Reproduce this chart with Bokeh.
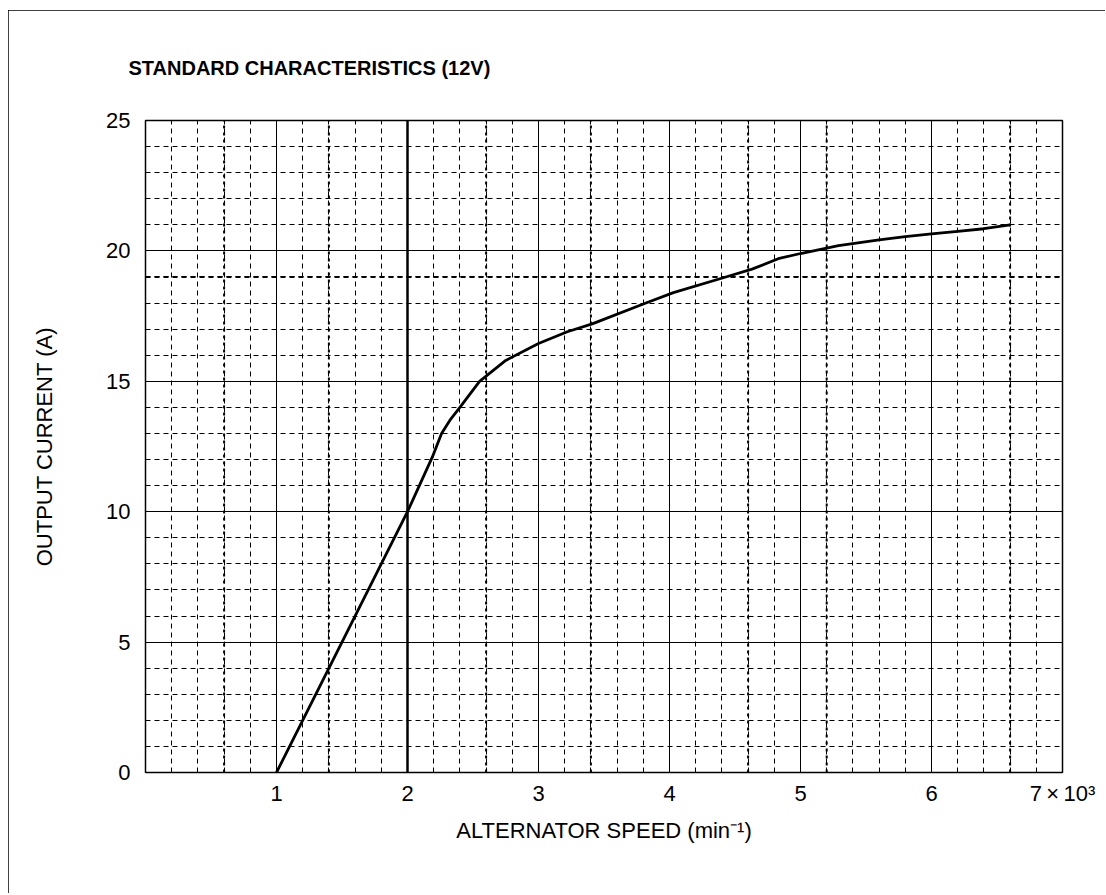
from bokeh.plotting import figure
from bokeh.models import FixedTicker, Span, Title
from bokeh.embed import file_html
from bokeh.resources import INLINE

# ---- data ----
speed_k = [1.0, 1.5, 2.0, 2.19, 2.26, 2.33, 2.40, 2.55, 2.75, 3.0, 3.22, 3.41,
           3.82, 4.03, 4.43, 4.63, 4.83, 5.0, 5.29, 5.6, 5.8, 6.0, 6.2, 6.4, 6.6]
current_a = [0.0, 5.0, 10.0, 12.1, 13.0, 13.55, 14.0, 15.0, 15.8, 16.45, 16.9, 17.2,
             18.0, 18.4, 19.0, 19.3, 19.7, 19.9, 20.2, 20.42, 20.55, 20.65, 20.75, 20.85, 21.0]

x_major = [1, 2, 3, 4, 5, 6, 7]
x_minor = [round(0.2 * i, 1) for i in range(1, 35) if i % 5 != 0]
y_major = [0, 5, 10, 15, 20, 25]
y_minor = [i for i in range(1, 25) if i % 5 != 0]
x_tick_labels = {7: "7\u2009\u00d7\u200910\u00b3"}
emph_x = [0.6, 1.4, 2.6, 3.4, 4.6, 5.2, 6.6]
emph_y = [19]
title_text = "STANDARD CHARACTERISTICS (12V)"

FONT = "Liberation Sans"

p = figure(width=1097, height=883, x_range=(0, 7), y_range=(0, 25),
           output_backend="svg", toolbar_location=None,
           min_border_left=137, min_border_right=43,
           min_border_top=110, min_border_bottom=121)
p.margin = (10, 0, 0, 8)
p.styles = {"outline": "2px solid black", "outline-offset": "-2px"}

p.title = Title(text=title_text, align="left", offset=-17,
                text_font=FONT, text_font_size="20px", text_font_style="bold",
                text_color="black", standoff=84)

p.outline_line_color = "black"
p.outline_line_width = 1.5
p.background_fill_color = "white"
p.border_fill_color = "white"

# axes
p.xaxis.ticker = FixedTicker(ticks=x_major)
p.xaxis.major_label_overrides = x_tick_labels
p.yaxis.ticker = FixedTicker(ticks=y_major)
for ax in (p.xaxis[0], p.yaxis[0]):
    ax.major_tick_out = 0
    ax.major_tick_in = 0
    ax.minor_tick_out = 0
    ax.minor_tick_in = 0
    ax.axis_line_color = None
    ax.major_label_text_font = FONT
    ax.major_label_text_font_size = "22px"
    ax.major_label_text_color = "black"
    ax.axis_label_text_font = FONT
    ax.axis_label_text_font_size = "22px"
    ax.axis_label_text_font_style = "normal"
    ax.axis_label_text_color = "black"

p.xaxis.axis_label = "ALTERNATOR SPEED (min\u207b\u00b9)"
p.yaxis.axis_label = "OUTPUT CURRENT (A)"
p.xaxis.major_label_standoff = 8
p.xaxis.axis_label_standoff = 9
p.yaxis.major_label_standoff = 15
p.yaxis.axis_label_standoff = 46

# grids
p.xgrid.ticker = FixedTicker(ticks=[t for t in x_major if t < 7], minor_ticks=x_minor)
p.ygrid.ticker = FixedTicker(ticks=[t for t in y_major if 0 < t < 25], minor_ticks=y_minor)
for g in (p.xgrid[0], p.ygrid[0]):
    g.grid_line_color = "black"
    g.grid_line_width = 1
    g.minor_grid_line_color = "black"
    g.minor_grid_line_width = 1
    g.minor_grid_line_dash = "5 4"

# emphasised (darker) grid lines seen in the reference
p.segment(x0=emph_x, y0=[0] * len(emph_x), x1=emph_x, y1=[25] * len(emph_x),
          line_color="black", line_width=2, line_dash="3 4")
p.segment(x0=[0] * len(emph_y), y0=emph_y, x1=[7] * len(emph_y), y1=emph_y,
          line_color="black", line_width=2, line_dash="5 4")
p.add_layout(Span(location=2, dimension="height", line_color="black", line_width=2.5))

# curve
p.line(speed_k, current_a, line_color="black", line_width=2.8)

open("out.html", "w").write(file_html(p, INLINE))
